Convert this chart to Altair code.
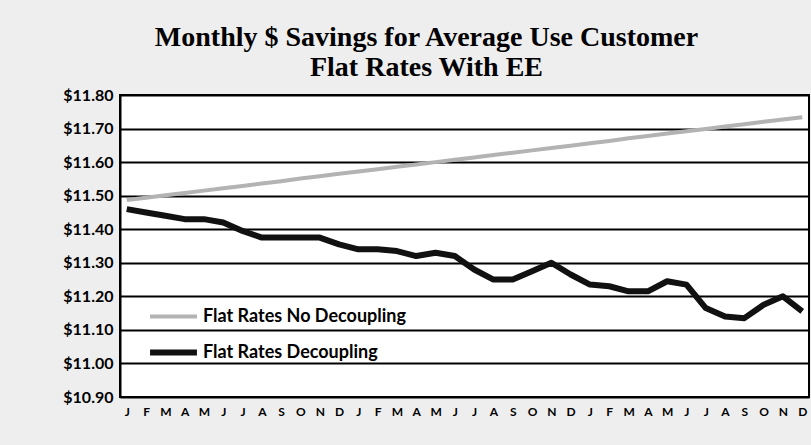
import altair as alt
import pandas as pd

months = ["J", "F", "M", "A", "M", "J", "J", "A", "S", "O", "N", "D"] * 3
decoupling = [11.46, 11.45, 11.44, 11.43, 11.43, 11.42, 11.395, 11.375, 11.375, 11.375, 11.375, 11.355,
              11.34, 11.34, 11.335, 11.32, 11.33, 11.32, 11.28, 11.25, 11.25, 11.275, 11.30, 11.265,
              11.235, 11.23, 11.215, 11.215, 11.245, 11.235, 11.165, 11.14, 11.135, 11.175, 11.20, 11.155]
no_decoupling = [11.487, 11.494, 11.501, 11.508, 11.515, 11.522, 11.529, 11.536, 11.543, 11.551, 11.558, 11.565,
                 11.572, 11.579, 11.586, 11.593, 11.600, 11.607, 11.614, 11.621, 11.628, 11.635, 11.642, 11.649,
                 11.656, 11.663, 11.671, 11.678, 11.685, 11.692, 11.699, 11.706, 11.713, 11.720, 11.727, 11.734]
series_names = ["Flat Rates No Decoupling", "Flat Rates Decoupling"]

rows = []
for i, m in enumerate(months):
    rows.append({"idx": i, "month": m, "series": series_names[0], "value": no_decoupling[i]})
    rows.append({"idx": i, "month": m, "series": series_names[1], "value": decoupling[i]})
df = pd.DataFrame(rows)

label_expr = "[" + ",".join('"%s"' % m for m in months) + "][datum.value]"

sans = "Lato"

chart = alt.Chart(df).mark_line(strokeCap="butt", strokeJoin="round").encode(
    x=alt.X("idx:O", title=None,
            scale=alt.Scale(type="point", padding=0.35),
            axis=alt.Axis(labelExpr=label_expr, labelAngle=0, ticks=False, domain=False,
                          labelFont=sans, labelFontWeight="bold", labelFontSize=12,
                          labelColor="black", labelPadding=9)),
    y=alt.Y("value:Q", title=None,
            scale=alt.Scale(domain=[10.90, 11.80], nice=False, zero=False),
            axis=alt.Axis(values=[10.9, 11.0, 11.1, 11.2, 11.3, 11.4, 11.5, 11.6, 11.7, 11.8],
                          format="$.2f", ticks=False, domainColor="black", domainWidth=2,
                          gridColor="black", gridWidth=2, gridOpacity=1,
                          labelFont=sans, labelFontWeight="bold", labelFontSize=16,
                          labelColor="black", labelPadding=7)),
    color=alt.Color("series:N",
                    scale=alt.Scale(domain=series_names, range=["#b3b3b3", "#111111"]),
                    legend=alt.Legend(title=None, orient="none", legendX=27, legendY=196,
                                      symbolType="stroke", symbolSize=2200, symbolStrokeWidth=5,
                                      labelFont=sans, labelFontWeight="bold", labelFontSize=18,
                                      labelColor="black", rowPadding=-12, labelOffset=3,
                                      labelLimit=400, symbolOpacity=1)),
    strokeWidth=alt.StrokeWidth("series:N",
                                scale=alt.Scale(domain=series_names, range=[4, 6]),
                                legend=None),
    order=alt.Order("idx:Q"),
).properties(
    width=689, height=302,
    title=alt.TitleParams(["Monthly $ Savings for Average Use Customer", "Flat Rates With EE"],
                          font="Liberation Serif", fontSize=28, fontWeight="bold", color="black",
                          anchor="middle", dx=-38, offset=5, lineHeight=30),
    autosize=alt.AutoSizeParams(type="none"),
    padding={"left": 120, "top": 95, "right": 2, "bottom": 48},
    background="#eeeeee",
).configure_view(
    fill="white", stroke="black", strokeWidth=2
)

chart.save("out.html", embed_options={"renderer": "svg", "actions": False})
